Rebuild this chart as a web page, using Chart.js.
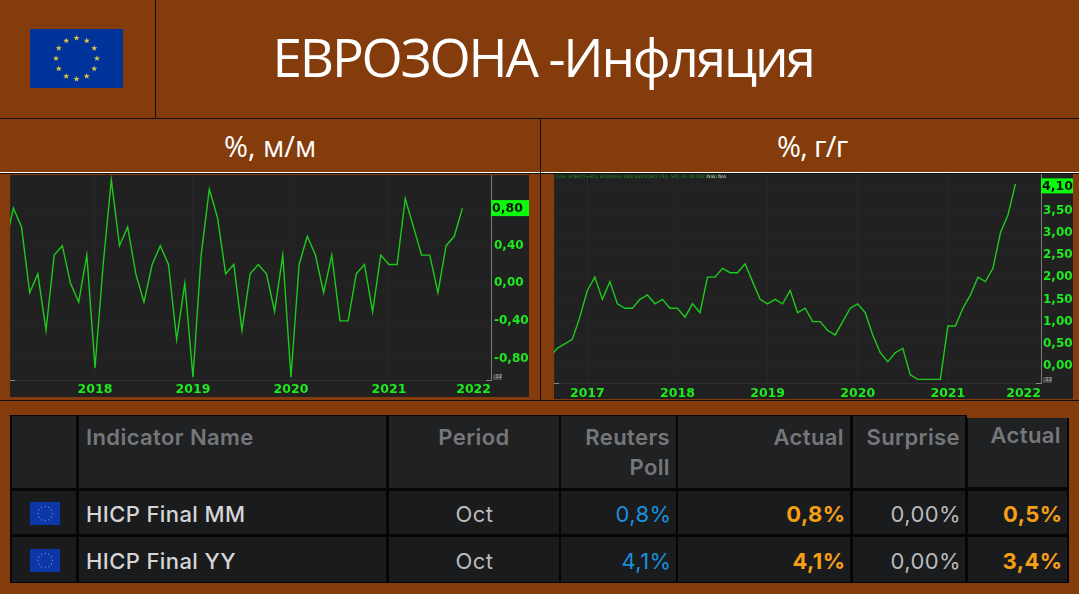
<!DOCTYPE html>
<html lang="ru"><head><meta charset="utf-8">
<script src="https://cdn.jsdelivr.net/npm/chart.js@4"></script>
<style>
html,body{margin:0;padding:0;background:#843C0C;overflow:hidden}
#page{position:relative;width:1079px;height:594px;background:#843C0C;overflow:hidden}
.abs{position:absolute}
.t{position:absolute;white-space:nowrap;font-family:Inter,sans-serif}
canvas{display:block}
</style></head><body><div id="page"></div>
<script>
const mmMonths=["2017-02","2017-03","2017-04","2017-05","2017-06","2017-07","2017-08","2017-09","2017-10","2017-11","2017-12",
"2018-01","2018-02","2018-03","2018-04","2018-05","2018-06","2018-07","2018-08","2018-09","2018-10","2018-11","2018-12",
"2019-01","2019-02","2019-03","2019-04","2019-05","2019-06","2019-07","2019-08","2019-09","2019-10","2019-11","2019-12",
"2020-01","2020-02","2020-03","2020-04","2020-05","2020-06","2020-07","2020-08","2020-09","2020-10","2020-11","2020-12",
"2021-01","2021-02","2021-03","2021-04","2021-05","2021-06","2021-07","2021-08","2021-09","2021-10"];
const mmValues=[0.4,0.8,0.6,-0.1,0.1,-0.5,0.3,0.4,0,-0.2,0.3,
-0.9,0.2,1.1,0.4,0.6,0.1,-0.2,0.2,0.4,0.2,-0.6,0,
-1.0,0.3,1.0,0.7,0.1,0.2,-0.5,0.1,0.2,0.1,-0.3,0.3,
-1.0,0.2,0.5,0.3,-0.1,0.3,-0.4,-0.4,0.1,0.2,-0.3,0.3,
0.2,0.2,0.9,0.6,0.3,0.3,-0.1,0.4,0.5,0.8];
const yyMonths=["2016-08","2016-09","2016-10","2016-11","2016-12",
"2017-01","2017-02","2017-03","2017-04","2017-05","2017-06","2017-07","2017-08","2017-09","2017-10","2017-11","2017-12",
"2018-01","2018-02","2018-03","2018-04","2018-05","2018-06","2018-07","2018-08","2018-09","2018-10","2018-11","2018-12",
"2019-01","2019-02","2019-03","2019-04","2019-05","2019-06","2019-07","2019-08","2019-09","2019-10","2019-11","2019-12",
"2020-01","2020-02","2020-03","2020-04","2020-05","2020-06","2020-07","2020-08","2020-09","2020-10","2020-11","2020-12",
"2021-01","2021-02","2021-03","2021-04","2021-05","2021-06","2021-07","2021-08","2021-09","2021-10"];
const yyValues=[0.2,0.4,0.5,0.6,1.1,
1.7,2.0,1.5,1.9,1.4,1.3,1.3,1.5,1.6,1.4,1.5,1.3,
1.3,1.1,1.4,1.2,2.0,2.0,2.2,2.1,2.1,2.3,1.9,1.5,
1.4,1.5,1.4,1.7,1.2,1.3,1.0,1.0,0.8,0.7,1.0,1.3,
1.4,1.2,0.7,0.3,0.1,0.3,0.4,-0.2,-0.3,-0.3,-0.3,-0.3,
0.9,0.9,1.3,1.6,2.0,1.9,2.2,3.0,3.4,4.1];
const mmTicks=[-0.8,-0.4,0,0.4,0.8];
const yyTicks=[0,0.5,1,1.5,2,2.5,3,3.5,4];
const mmYears=[2018,2019,2020,2021,2022];
const yyYears=[2017,2018,2019,2020,2021,2022];
const tableHeaders=["Indicator Name","Period","Reuters Poll","Actual","Surprise","Actual"];
const tableRows=[["HICP Final MM","Oct","0,8%","0,8%","0,00%","0,5%"],["HICP Final YY","Oct","4,1%","4,1%","0,00%","3,4%"]];

const page=document.getElementById('page');
function box(x,y,w,h,c,parent){const d=document.createElement('div');d.className='abs';d.style.cssText=`left:${x}px;top:${y}px;width:${w}px;height:${h}px;background:${c}`;(parent||page).appendChild(d);return d;}
function text(s,o){const d=document.createElement('div');d.className='t';d.textContent=s;
 let st=`font-size:${o.size}px;color:${o.color};font-weight:${o.weight||400};font-family:${o.font||'Inter,sans-serif'};line-height:1;`;
 if(o.ls!==undefined)st+=`letter-spacing:${o.ls}px;`;
 if(o.align==='right')st+=`right:${1079-o.x}px;`;else if(o.align==='center')st+=`left:${o.x}px;transform:translateX(-50%);`;else st+=`left:${o.x}px;`;
 st+=`top:${o.y}px;`;d.style.cssText=st;page.appendChild(d);return d;}

function flag(x,y,w,h,bg,star,r,sr){
 const ns='http://www.w3.org/2000/svg';const s=document.createElementNS(ns,'svg');
 s.setAttribute('width',w);s.setAttribute('height',h);s.style.cssText=`position:absolute;left:${x}px;top:${y}px`;
 const rc=document.createElementNS(ns,'rect');rc.setAttribute('width',w);rc.setAttribute('height',h);rc.setAttribute('fill',bg);s.appendChild(rc);
 for(let i=0;i<12;i++){const a=i*Math.PI/6,cx=w/2+r*Math.sin(a),cy=h/2-r*Math.cos(a);let p='';
  for(let k=0;k<10;k++){const q=sr*(k%2?0.42:1),b=k*Math.PI/5;p+=(cx+q*Math.sin(b)).toFixed(2)+','+(cy-q*Math.cos(b)).toFixed(2)+' ';}
  const pg=document.createElementNS(ns,'polygon');pg.setAttribute('points',p);pg.setAttribute('fill',star);s.appendChild(pg);}
 page.appendChild(s);}

// frame lines
box(155,0,1,118,'#111');
box(0,118,1079,1,'#111');
box(0,172,1079,1,'#fff');
box(0,173,1079,1,'#111');
box(0,400,1079,1,'#111');
flag(30,29,93,59,'#003399','#D9C24A',20.5,3.2);
text('ЕВРОЗОНА -Инфляция',{x:272.5,y:30,size:53,color:'#fff',font:'"Open Sans",sans-serif',ls:-2.15});
text('%, м/м',{x:224,y:131,size:29,color:'#fff',font:'"Open Sans",sans-serif'});
text('%, г/г',{x:777,y:131,size:29,color:'#fff',font:'"Open Sans",sans-serif',ls:-0.7});

const LABEL='#1DEB1D', LINE='#1CCB1C', BAND='#212121';
const monthIndex=(m,base)=>{const [y,mo]=m.split('-').map(Number);return (y-base)*12+(mo-1);};
const noPad=s=>{s.paddingTop=s.paddingBottom=s.paddingLeft=s.paddingRight=0;};

function chart(cfg){
 const w=cfg.w,h=cfg.h;
 const holder=document.createElement('div');holder.className='abs';holder.style.cssText=`left:${cfg.x}px;top:${cfg.y}px;width:${w}px;height:${h}px;background:${BAND}`;
 const c=document.createElement('canvas');c.width=w;c.height=h;c.style.cssText=`width:${w}px;height:${h}px`;holder.appendChild(c);page.appendChild(holder);
 const last=cfg.values[cfg.values.length-1];
 const yearTicks=cfg.years.slice(0,-1).map(y=>(y-cfg.base)*12);
 const badge={id:'badge',afterDraw(ch){
   const g=ch.ctx,sc=ch.scales.y,ca=ch.chartArea,py=sc.getPixelForValue(last)+cfg.badgeDy;
   g.save();g.fillStyle='#0CFB0C';g.fillRect(ca.right,py-cfg.badgeH/2,w-ca.right,cfg.badgeH);
   g.fillStyle='#0a140a';g.font='bold 12.5px "DejaVu Sans"';g.textBaseline='middle';g.textAlign='left';
   g.fillText(last.toFixed(2).replace('.',','),ca.right+1,py+0.5);
   g.fillStyle='#4a4a4a';g.fillRect(ca.right+2,ca.bottom-6,9,6);
   g.fillStyle='#bbb';g.font='5px "DejaVu Sans"';g.fillText('.12',ca.right+3,ca.bottom-3);
   g.fillStyle='#888';g.fillRect(0,ca.bottom,5,1);g.fillRect(ca.right-5,ca.bottom,5,1);
   g.restore();}};
 return new Chart(c,{type:'line',plugins:[badge],
  data:{labels:cfg.months,datasets:[{data:cfg.months.map((m,i)=>({x:monthIndex(m,cfg.base),y:cfg.values[i]})),borderColor:LINE,borderWidth:1.4,pointRadius:0,tension:0,fill:false}]},
  options:{responsive:false,animation:false,parsing:false,normalized:true,
   layout:{padding:0,autoPadding:false},
   plugins:{legend:{display:false},tooltip:{enabled:false},title:{display:false}},
   scales:{
    x:{type:'linear',min:cfg.xMin,max:cfg.xMax,
     afterBuildTicks(s){s.ticks=[{value:cfg.xMin,label:''}].concat(yearTicks.map(v=>({value:v}))).concat([{value:cfg.xMax}]);},
     afterTickToLabelConversion(s){s.ticks.forEach((t,i)=>{t.label=i===0?'':String(cfg.years[i-1]);});},
     afterFit(s){s.height=h-cfg.axisBottom;noPad(s);},
     border:{display:true,color:'#303030'},
     grid:{drawTicks:false,color:'#272727',lineWidth:1},
     ticks:{autoSkip:false,maxRotation:0,minRotation:0,align:'inner',padding:cfg.xPad,color:LABEL,font:{family:'"DejaVu Sans"',size:12.5,weight:'bold'}}},
    y:{type:'linear',position:'right',min:cfg.yMin,max:cfg.yMax,
     afterBuildTicks(s){s.ticks=cfg.ticks.map(v=>({value:v}));},
     afterFit(s){s.width=w-cfg.axisRight;noPad(s);},
     border:{display:true,color:'#7a7a7a'},
     grid:{drawTicks:false,color:'#252525',lineWidth:1},
     ticks:{padding:cfg.tickPad,color:LABEL,crossAlign:'near',font:{family:'"DejaVu Sans"',size:12,weight:'bold'},
      callback:v=>v.toFixed(2).replace('.',',')}}
   }}});
}
chart({x:10,y:175,w:519,h:222,months:mmMonths,values:mmValues,ticks:mmTicks,years:mmYears,base:2018,
 xMin:-10.41,xMax:48.5,yMin:-1.029,yMax:1.152,axisRight:481,axisBottom:205,badgeH:16,badgeDy:0,tickPad:3,xPad:2});
chart({x:554,y:174,w:519,h:225,months:yyMonths,values:yyValues,ticks:yyTicks,years:yyYears,base:2017,
 xMin:-4.44,xMax:60.4,yMin:-0.382,yMax:4.322,axisRight:487,axisBottom:209,badgeH:15,badgeDy:2,tickPad:2,xPad:3});
text('Line; EUHICY=ECI; Economic Indicator(Last); (S1; S2); 31.10.2021; 4,10;',{x:556,y:175,size:4.6,color:'#1a9a1a',font:'"DejaVu Sans"'});
text('N/A; N/A',{x:707,y:175,size:4.6,color:'#cccccc',font:'"DejaVu Sans"'});
box(540,119,1,281,'#111');

// table
box(10,415,957,168,'#060607');
box(967,418,102,165,'#060607');
const colsX=[12,78.5,388.5,561,678,852.5,968];
const colsR=[76,386,559,675.5,849.5,965,1067];
for(let i=0;i<7;i++){
 const top=i===6?418:416;const hb=i===6?487:488;
 box(colsX[i],top,colsR[i]-colsX[i],hb-top,'#202123');
 box(colsX[i],491,colsR[i]-colsX[i],43,'#1a1b1d');
 box(colsX[i],536.5,colsR[i]-colsX[i],45,'#1a1b1d');
}
flag(29.5,502,30.5,23,'#0B37A8','#8f96b8',7.2,1);
flag(29.5,549,30.5,23,'#0B37A8','#8f96b8',7.2,1);
const HF={size:22,color:'#76777a',weight:600,ls:0.4};
text(tableHeaders[0],{x:86,y:426,...HF});
text(tableHeaders[1],{x:474,y:426,align:'center',...HF});
text('Reuters',{x:670,y:426,align:'right',...HF});
text('Poll',{x:670,y:456,align:'right',...HF});
text(tableHeaders[3],{x:844,y:426,align:'right',...HF});
text(tableHeaders[4],{x:960,y:426,align:'right',...HF});
text(tableHeaders[5],{x:1061,y:424,align:'right',...HF});
const cy=[503,550];const R={size:22,ls:0.4};
tableRows.forEach((r,i)=>{
 text(r[0],{x:86,y:cy[i],color:'#d5d5d7',weight:500,...R});
 text(r[1],{x:474.5,y:cy[i],align:'center',color:'#b9babc',...R});
 text(r[2],{x:671.5,y:cy[i],align:'right',color:'#1b8fdc',...R});
 text(r[3],{x:845.5,y:cy[i],align:'right',color:'#f59f17',weight:700,...R});
 text(r[4],{x:961,y:cy[i],align:'right',color:'#b9babc',...R});
 text(r[5],{x:1062.5,y:cy[i],align:'right',color:'#f59f17',weight:700,...R});
});
</script></body></html>
